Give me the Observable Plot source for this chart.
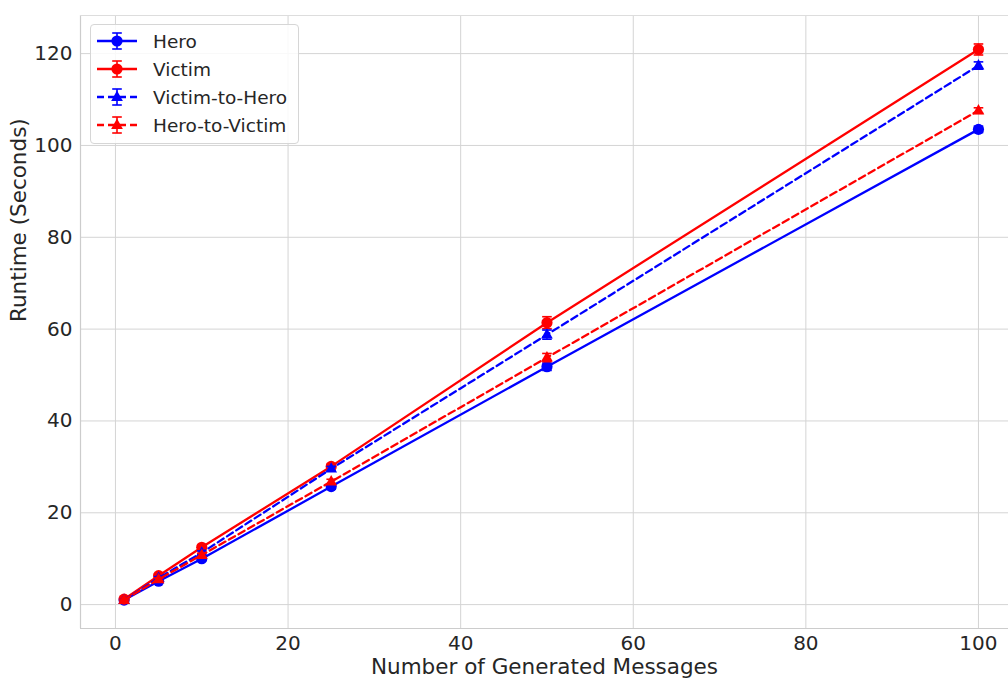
<!DOCTYPE html>
<html>
<head>
<meta charset="utf-8">
<script src="https://cdn.jsdelivr.net/npm/d3@7"></script>
<script src="https://cdn.jsdelivr.net/npm/@observablehq/plot@0.6"></script>
<style>
  body { margin: 0; background: #fff; font-family: "DejaVu Sans", sans-serif; }
  #wrap { position: relative; width: 1008px; height: 679px; overflow: hidden; }
  #legend { position: absolute; left: 90px; top: 24px; width: 209px; height: 120px;
            border: 1px solid #d6d6d6; border-radius: 4px; background: rgba(255,255,255,0.85);
            box-sizing: border-box; }
  .item { position: absolute; left: 6px; height: 28px; display: flex; align-items: center; }
  .item span { font-size: 18.5px; color: #262626; margin-left: 14px; }
</style>
</head>
<body>
<div id="wrap"><div id="chart"></div><div id="legend"></div></div>
<script>
const messages = [1, 5, 10, 25, 50, 100];
const seriesNames = ["Hero", "Victim", "Victim-to-Hero", "Hero-to-Victim"];
const seriesColors = ["#0000ff", "#ff0000", "#0000ff", "#ff0000"];
const seriesDashed = [false, false, true, true];
const seriesMarker = ["circle", "circle", "triangle", "triangle"];
const heroValues = [1.0, 5.1, 10.0, 25.7, 51.8, 103.5];
const heroErrors = [0.2, 0.3, 0.4, 0.5, 0.8, 0.7];
const victimValues = [1.2, 6.3, 12.5, 30.1, 61.4, 120.9];
const victimErrors = [0.2, 0.3, 0.4, 0.5, 1.3, 1.2];
const v2hValues = [1.0, 5.8, 11.3, 29.6, 58.8, 117.4];
const v2hErrors = [0.2, 0.3, 0.4, 0.5, 1.0, 0.8];
const h2vValues = [1.0, 5.5, 10.8, 26.8, 53.8, 107.6];
const h2vErrors = [0.2, 0.3, 0.4, 0.5, 0.9, 0.6];
const xTicks = [0, 20, 40, 60, 80, 100];
const yTicks = [0, 20, 40, 60, 80, 100, 120];
const xTitle = "Number of Generated Messages";
const yTitle = "Runtime (Seconds)";

const allValues = [heroValues, victimValues, v2hValues, h2vValues];
const allErrors = [heroErrors, victimErrors, v2hErrors, h2vErrors];
const rows = [];
seriesNames.forEach((name, i) => {
  messages.forEach((m, j) => {
    rows.push({series: name, idx: i, x: m, y: allValues[i][j],
               lo: allValues[i][j] - allErrors[i][j], hi: allValues[i][j] + allErrors[i][j]});
  });
});

const cap = { draw(context, size) { const w = 4.8; context.moveTo(-w, 0); context.lineTo(w, 0); } };
const tri = { draw(context, size) { const r = 6.5; context.moveTo(0, -r); context.lineTo(r*0.9, r*0.6); context.lineTo(-r*0.9, r*0.6); context.closePath(); } };
const circ = { draw(context, size) { const r = 5.6; context.moveTo(r, 0); context.arc(0, 0, r, 0, 2*Math.PI); } };

const marks = [
  Plot.gridX(xTicks, {stroke: "#d4d4d4", strokeOpacity: 1, strokeWidth: 1}),
  Plot.gridY(yTicks, {stroke: "#d4d4d4", strokeOpacity: 1, strokeWidth: 1}),
  Plot.ruleY([-5.2], {stroke: "#cccccc", strokeWidth: 1.2}),
  Plot.ruleX([-4.05], {stroke: "#cccccc", strokeWidth: 1.2}),
  Plot.ruleY([128.3], {stroke: "#dddddd", strokeWidth: 1}),
  Plot.axisX(xTicks, {tickSize: 0, tickPadding: 7, fontSize: 20, color: "#262626", label: null}),
  Plot.axisY(yTicks, {tickSize: 0, tickPadding: 8, fontSize: 20, color: "#262626", label: null}),
  Plot.text([xTitle], {frameAnchor: "bottom", dy: 39, fontSize: 21.5, fill: "#262626", lineAnchor: "middle"}),
  Plot.text([yTitle], {frameAnchor: "left", dx: -61, rotate: -90, fontSize: 21.5, fill: "#262626", lineAnchor: "middle"})
];
seriesNames.forEach((name, i) => {
  const d = rows.filter(r => r.idx === i);
  marks.push(Plot.line(d, {x: "x", y: "y", stroke: seriesColors[i], strokeWidth: 2.3,
    strokeDasharray: seriesDashed[i] ? "7,4" : null}));
  marks.push(Plot.ruleX(d, {x: "x", y1: "lo", y2: "hi", stroke: seriesColors[i], strokeWidth: 1.6}));
  marks.push(Plot.dot(d, {x: "x", y: "lo", symbol: cap, stroke: seriesColors[i], strokeWidth: 1.6, fill: "none"}));
  marks.push(Plot.dot(d, {x: "x", y: "hi", symbol: cap, stroke: seriesColors[i], strokeWidth: 1.6, fill: "none"}));
  marks.push(Plot.dot(d, {x: "x", y: "y", symbol: seriesMarker[i] === "circle" ? circ : tri,
    fill: seriesColors[i], stroke: "none"}));
});

const chart = Plot.plot({
  width: 1008, height: 679,
  marginLeft: 80, marginRight: 0, marginTop: 15, marginBottom: 51,
  style: {fontFamily: "DejaVu Sans, sans-serif", fontSize: "20px", color: "#262626", background: "#fff", overflow: "visible"},
  x: {domain: [-4.05, 103.48]},
  y: {domain: [-5.2, 128.3]},
  marks
});
document.getElementById("chart").appendChild(chart);

const legend = document.getElementById("legend");
seriesNames.forEach((name, i) => {
  const item = document.createElement("div");
  item.className = "item";
  item.style.top = (2 + i * 28) + "px";
  const c = seriesColors[i];
  const dash = seriesDashed[i] ? 'stroke-dasharray="7,4"' : "";
  const marker = seriesMarker[i] === "circle"
    ? `<circle cx="20" cy="14" r="5.6" fill="${c}"/>`
    : `<path d="M20,7.5 L25.9,17.9 L14.1,17.9 Z" fill="${c}"/>`;
  item.innerHTML = `<svg width="42" height="28">
    <line x1="0" y1="14" x2="40" y2="14" stroke="${c}" stroke-width="2.3" ${dash}/>
    <line x1="20" y1="6" x2="20" y2="22" stroke="${c}" stroke-width="1.6"/>
    <line x1="15.2" y1="6" x2="24.8" y2="6" stroke="${c}" stroke-width="1.6"/>
    <line x1="15.2" y1="22" x2="24.8" y2="22" stroke="${c}" stroke-width="1.6"/>
    ${marker}</svg><span>${name}</span>`;
  legend.appendChild(item);
});
</script>
</body>
</html>
